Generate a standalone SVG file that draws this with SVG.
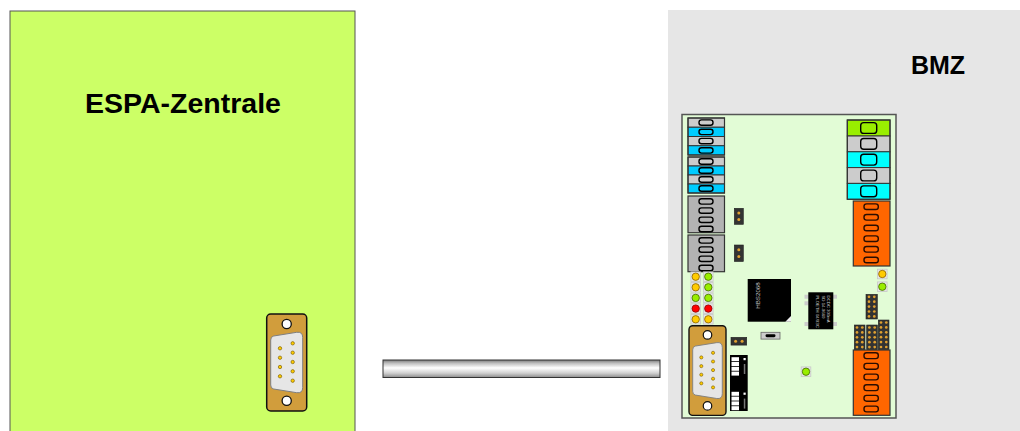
<svg xmlns="http://www.w3.org/2000/svg" xmlns:xlink="http://www.w3.org/1999/xlink" width="1020" height="431" viewBox="0 0 1020 431">
  <style>
    .title { font-family: "Liberation Sans", Arial, sans-serif; font-weight: bold; fill: #000; }
    .blk { stroke: #333; stroke-width: 1; }
    .slot { stroke: #000; stroke-width: 1.4; }
    .oslot { fill: #ff6600; stroke: #2a0d00; stroke-width: 1.4; }
    .hdr { fill: #333; stroke: #222; stroke-width: 0.6; }
    .pin { fill: #e0a030; }
    .ledbg { fill: #e6e6e6; stroke: #c8c8c8; stroke-width: 0.8; }
    .led-o { fill: #ffcc00; stroke: #8a6200; stroke-width: 0.8; }
    .led-g { fill: #99ee00; stroke: #3f6a00; stroke-width: 0.8; }
    .led-r { fill: #ff0000; stroke: #8a0000; stroke-width: 0.8; }
    .chiptxt { font-family: "Liberation Sans", Arial, sans-serif; fill: #c8c8c8; }
  </style>
  <defs>
    <linearGradient id="cableShade" x1="0" y1="0" x2="0" y2="1">
      <stop offset="0" stop-color="#7a7a7a"/>
      <stop offset="0.18" stop-color="#bdbdbd"/>
      <stop offset="0.45" stop-color="#ffffff"/>
      <stop offset="0.75" stop-color="#d0d0d0"/>
      <stop offset="1" stop-color="#8c8c8c"/>
    </linearGradient>
    <!-- 9-pin D-sub connector, 40 x 97 -->
    <g id="db9">
      <rect x="0" y="0" width="40" height="97" rx="4" fill="#d19d3c" stroke="#111" stroke-width="1.5"/>
      <circle cx="20" cy="10" r="4.6" fill="#fff" stroke="#111" stroke-width="1.3"/>
      <circle cx="20" cy="86.7" r="4.6" fill="#fff" stroke="#111" stroke-width="1.3"/>
      <path d="M7,22 L30,18.3 Q36,17.5 36,23.5 L36,73.5 Q36,79.5 30,78.7 L7,75 Q4,74.5 4,71 L4,26 Q4,22.5 7,22 Z" fill="#e6e6e6" stroke="#7f7f7f" stroke-width="1"/>
      <g fill="#ffcc00" stroke="#6b5000" stroke-width="0.6">
        <circle cx="13.3" cy="34.3" r="1.7"/>
        <circle cx="13.3" cy="43.7" r="1.7"/>
        <circle cx="13.3" cy="53" r="1.7"/>
        <circle cx="13.3" cy="62.3" r="1.7"/>
        <circle cx="26" cy="29.3" r="1.7"/>
        <circle cx="26" cy="38.7" r="1.7"/>
        <circle cx="26" cy="48" r="1.7"/>
        <circle cx="26" cy="57.3" r="1.7"/>
        <circle cx="26" cy="66.7" r="1.7"/>
      </g>
    </g>
    <!-- one row of a two-column pin header -->
    <g id="pinpair">
      <circle cx="0" cy="0" r="1.35" class="pin"/>
      <circle cx="5.3" cy="0" r="1.35" class="pin"/>
    </g>
    <!-- small LED on a square pad -->
    <rect id="ledpad" x="-4.8" y="-4.8" width="9.6" height="9.6"/>
  </defs>

  <!-- ESPA central unit -->
  <g id="espa-zentrale">
    <rect x="10" y="11" width="345" height="430" fill="#ccff66" stroke="#555" stroke-width="1"/>
    <text class="title" x="183" y="113" font-size="28.5" text-anchor="middle">ESPA-Zentrale</text>
    <use xlink:href="#db9" transform="translate(266.7,314)"/>
  </g>

  <!-- BMZ with the interface board -->
  <g id="bmz">
    <rect x="668" y="10" width="360" height="431" fill="#e6e6e6"/>
    <text class="title" x="938" y="74" font-size="25" text-anchor="middle">BMZ</text>

    <g id="board">
      <rect x="682" y="114.5" width="214" height="303.5" fill="#e2fcd6" stroke="#555" stroke-width="1.5"/>

      <!-- left screw terminals -->
      <g id="term-left">
        <rect class="blk" x="688" y="118" width="36.5" height="9.25" fill="#cccccc"/>
        <rect class="blk" x="688" y="127.25" width="36.5" height="9.25" fill="#00ccff"/>
        <rect class="blk" x="688" y="136.5" width="36.5" height="9.25" fill="#cccccc"/>
        <rect class="blk" x="688" y="145.75" width="36.5" height="9.25" fill="#00ccff"/>
        <rect x="688" y="118" width="36.5" height="37" fill="none" stroke="#333" stroke-width="1.2"/>
        <rect class="slot" x="699" y="119.9" width="14" height="5.4" rx="2.5" fill="#cccccc"/>
        <rect class="slot" x="699" y="129.2" width="14" height="5.4" rx="2.5" fill="#00ccff"/>
        <rect class="slot" x="699" y="138.4" width="14" height="5.4" rx="2.5" fill="#cccccc"/>
        <rect class="slot" x="699" y="147.7" width="14" height="5.4" rx="2.5" fill="#00ccff"/>

        <rect class="blk" x="688" y="157" width="36.5" height="9" fill="#cccccc"/>
        <rect class="blk" x="688" y="166" width="36.5" height="9" fill="#00ccff"/>
        <rect class="blk" x="688" y="175" width="36.5" height="9" fill="#cccccc"/>
        <rect class="blk" x="688" y="184" width="36.5" height="9" fill="#00ccff"/>
        <rect x="688" y="157" width="36.5" height="36" fill="none" stroke="#333" stroke-width="1.2"/>
        <rect class="slot" x="699" y="158.8" width="14" height="5.4" rx="2.5" fill="#cccccc"/>
        <rect class="slot" x="699" y="167.8" width="14" height="5.4" rx="2.5" fill="#00ccff"/>
        <rect class="slot" x="699" y="176.8" width="14" height="5.4" rx="2.5" fill="#cccccc"/>
        <rect class="slot" x="699" y="185.8" width="14" height="5.4" rx="2.5" fill="#00ccff"/>

        <rect x="688" y="196" width="36.5" height="36.7" fill="#b3b3b3" stroke="#333" stroke-width="1.2"/>
        <rect class="slot" x="699" y="198.7" width="14" height="5.4" rx="2.5" fill="#b3b3b3"/>
        <rect class="slot" x="699" y="207.9" width="14" height="5.4" rx="2.5" fill="#b3b3b3"/>
        <rect class="slot" x="699" y="217.1" width="14" height="5.4" rx="2.5" fill="#b3b3b3"/>
        <rect class="slot" x="699" y="226.3" width="14" height="5.4" rx="2.5" fill="#b3b3b3"/>

        <rect x="688" y="235" width="36.5" height="36.7" fill="#b3b3b3" stroke="#333" stroke-width="1.2"/>
        <rect class="slot" x="699" y="237.7" width="14" height="5.4" rx="2.5" fill="#b3b3b3"/>
        <rect class="slot" x="699" y="246.9" width="14" height="5.4" rx="2.5" fill="#b3b3b3"/>
        <rect class="slot" x="699" y="256.1" width="14" height="5.4" rx="2.5" fill="#b3b3b3"/>
        <rect class="slot" x="699" y="265.3" width="14" height="5.4" rx="2.5" fill="#b3b3b3"/>
      </g>

      <!-- jumpers -->
      <g id="jumpers">
        <rect class="hdr" x="734.3" y="208.3" width="9" height="16"/>
        <circle class="pin" cx="738.8" cy="213" r="1.5"/>
        <circle class="pin" cx="738.8" cy="219.6" r="1.5"/>
        <rect class="hdr" x="734.3" y="245" width="9" height="16.5"/>
        <circle class="pin" cx="738.8" cy="249.8" r="1.5"/>
        <circle class="pin" cx="738.8" cy="256.5" r="1.5"/>
        <rect class="hdr" x="731" y="337.3" width="15.7" height="7.8"/>
        <circle class="pin" cx="735.6" cy="341.2" r="1.5"/>
        <circle class="pin" cx="742.1" cy="341.2" r="1.5"/>
      </g>

      <!-- status LEDs -->
      <g id="leds">
        <use xlink:href="#ledpad" class="ledbg" x="695.7" y="276.7"/>
        <circle class="led-o" cx="695.7" cy="276.7" r="3.7"/>
        <use xlink:href="#ledpad" class="ledbg" x="708.3" y="276.7"/>
        <circle class="led-g" cx="708.3" cy="276.7" r="3.7"/>
        <use xlink:href="#ledpad" class="ledbg" x="695.7" y="287.3"/>
        <circle class="led-o" cx="695.7" cy="287.3" r="3.7"/>
        <use xlink:href="#ledpad" class="ledbg" x="708.3" y="287.3"/>
        <circle class="led-g" cx="708.3" cy="287.3" r="3.7"/>
        <use xlink:href="#ledpad" class="ledbg" x="695.7" y="297.9"/>
        <circle class="led-g" cx="695.7" cy="297.9" r="3.7"/>
        <use xlink:href="#ledpad" class="ledbg" x="708.3" y="297.9"/>
        <circle class="led-g" cx="708.3" cy="297.9" r="3.7"/>
        <use xlink:href="#ledpad" class="ledbg" x="695.7" y="308.6"/>
        <circle class="led-r" cx="695.7" cy="308.6" r="3.7"/>
        <use xlink:href="#ledpad" class="ledbg" x="708.3" y="308.6"/>
        <circle class="led-r" cx="708.3" cy="308.6" r="3.7"/>
        <use xlink:href="#ledpad" class="ledbg" x="695.7" y="319.3"/>
        <circle class="led-o" cx="695.7" cy="319.3" r="3.7"/>
        <use xlink:href="#ledpad" class="ledbg" x="708.3" y="319.3"/>
        <circle class="led-o" cx="708.3" cy="319.3" r="3.7"/>

        <use xlink:href="#ledpad" class="ledbg" x="882.3" y="274"/>
        <circle class="led-o" cx="882.3" cy="274" r="3.7"/>
        <use xlink:href="#ledpad" class="ledbg" x="882.3" y="286.7"/>
        <circle class="led-g" cx="882.3" cy="286.7" r="3.7"/>
        <use xlink:href="#ledpad" class="ledbg" x="806" y="371.7"/>
        <circle class="led-g" cx="806" cy="371.7" r="3.7"/>
      </g>

      <!-- D-sub on the board -->
      <use xlink:href="#db9" transform="translate(689,325.7) scale(0.925)"/>

      <!-- microcontroller -->
      <g id="chip-main">
        <rect x="747.7" y="279" width="43.3" height="42.7" fill="#000"/>
        <polygon points="791,316 791,321.7 785.3,321.7" fill="#f0f0f0"/>
        <text class="chiptxt" font-size="6.2" text-anchor="middle" transform="translate(759.6,295.5) rotate(-90)">HBS2068</text>
      </g>

      <!-- DC/DC converter -->
      <g id="chip-dcdc">
        <rect x="804.5" y="294.7" width="4" height="4" fill="#cccccc"/>
        <rect x="804.5" y="301.3" width="4" height="4" fill="#cccccc"/>
        <rect x="804.5" y="322" width="4" height="4" fill="#cccccc"/>
        <rect x="833" y="294.7" width="4" height="4" fill="#cccccc"/>
        <rect x="833" y="322" width="4" height="4" fill="#cccccc"/>
        <rect x="808.3" y="292.3" width="25" height="37" fill="#000"/>
        <g class="chiptxt" font-size="4.3">
          <text transform="translate(826.8,295.5) rotate(90)">DCDC 300mA</text>
          <text transform="translate(821.6,295.5) rotate(90)">SD 14-0660</text>
          <text transform="translate(816.4,295.5) rotate(90)">PLOETH 04/03C</text>
        </g>
      </g>

      <!-- push button -->
      <g id="button">
        <rect x="761" y="332.3" width="19" height="6.8" fill="#cccccc" stroke="#666" stroke-width="0.8"/>
        <rect x="765.5" y="334.3" width="10" height="2.9" rx="1.4" fill="#000"/>
      </g>

      <!-- DIP switches -->
      <g id="dip">
        <rect x="730" y="355" width="17.7" height="56" fill="#000"/>
        <g fill="#ffffff">
          <rect x="731.5" y="357.2" width="7.5" height="4"/>
          <rect x="731.5" y="362" width="7.5" height="4"/>
          <rect x="731.5" y="366.8" width="7.5" height="4"/>
          <rect x="731.5" y="371.6" width="7.5" height="4"/>
          <rect x="731.5" y="391.8" width="7.5" height="4"/>
          <rect x="731.5" y="396.6" width="7.5" height="4"/>
          <rect x="731.5" y="401.4" width="7.5" height="4"/>
          <rect x="731.5" y="406.2" width="7.5" height="4"/>
          <rect x="743.5" y="358" width="2.2" height="2.2"/>
          <rect x="743.5" y="392.6" width="2.2" height="2.2"/>
        </g>
        <g fill="#777">
          <rect x="743.8" y="364" width="1.5" height="10"/>
          <rect x="743.8" y="398.6" width="1.5" height="10"/>
        </g>
      </g>

      <!-- right screw terminals -->
      <g id="term-right">
        <rect class="blk" x="847.3" y="120" width="42.7" height="16" fill="#99ee00"/>
        <rect class="blk" x="847.3" y="136" width="42.7" height="15.8" fill="#cccccc"/>
        <rect class="blk" x="847.3" y="151.8" width="42.7" height="15.8" fill="#00ffff"/>
        <rect class="blk" x="847.3" y="167.6" width="42.7" height="15.8" fill="#cccccc"/>
        <rect class="blk" x="847.3" y="183.4" width="42.7" height="15.9" fill="#00ffff"/>
        <rect x="847.3" y="120" width="42.7" height="79.3" fill="none" stroke="#333" stroke-width="1.2"/>
        <rect class="slot" x="860.7" y="122.6" width="16" height="10.8" rx="3" fill="#99ee00"/>
        <rect class="slot" x="860.7" y="138.5" width="16" height="10.8" rx="3" fill="#cccccc"/>
        <rect class="slot" x="860.7" y="154.3" width="16" height="10.8" rx="3" fill="#00ffff"/>
        <rect class="slot" x="860.7" y="170.1" width="16" height="10.8" rx="3" fill="#cccccc"/>
        <rect class="slot" x="860.7" y="185.9" width="16" height="10.8" rx="3" fill="#00ffff"/>

        <rect x="853.3" y="201" width="36.7" height="65" fill="#ff6600" stroke="#333" stroke-width="1.2"/>
        <rect class="oslot" x="864" y="203.9" width="14.3" height="5.6" rx="2.6"/>
        <rect class="oslot" x="864" y="214.5" width="14.3" height="5.6" rx="2.6"/>
        <rect class="oslot" x="864" y="225.2" width="14.3" height="5.6" rx="2.6"/>
        <rect class="oslot" x="864" y="235.9" width="14.3" height="5.6" rx="2.6"/>
        <rect class="oslot" x="864" y="246.5" width="14.3" height="5.6" rx="2.6"/>
        <rect class="oslot" x="864" y="257.2" width="14.3" height="5.6" rx="2.6"/>

        <rect x="853.3" y="350" width="36.7" height="65.3" fill="#ff6600" stroke="#333" stroke-width="1.2"/>
        <rect class="oslot" x="864" y="352.8" width="14.3" height="5.8" rx="2.6"/>
        <rect class="oslot" x="864" y="363.4" width="14.3" height="5.8" rx="2.6"/>
        <rect class="oslot" x="864" y="374.1" width="14.3" height="5.8" rx="2.6"/>
        <rect class="oslot" x="864" y="384.8" width="14.3" height="5.8" rx="2.6"/>
        <rect class="oslot" x="864" y="395.4" width="14.3" height="5.8" rx="2.6"/>
        <rect class="oslot" x="864" y="406.1" width="14.3" height="5.8" rx="2.6"/>
      </g>

      <!-- pin headers -->
      <g id="headers">
        <rect class="hdr" x="866" y="294.3" width="11.3" height="24.7"/>
        <use xlink:href="#pinpair" x="869" y="296.8"/>
        <use xlink:href="#pinpair" x="869" y="301.7"/>
        <use xlink:href="#pinpair" x="869" y="306.6"/>
        <use xlink:href="#pinpair" x="869" y="311.5"/>
        <use xlink:href="#pinpair" x="869" y="316.4"/>

        <rect class="hdr" x="854.3" y="325" width="10.7" height="24.5"/>
        <use xlink:href="#pinpair" x="857" y="327.5"/>
        <use xlink:href="#pinpair" x="857" y="332.4"/>
        <use xlink:href="#pinpair" x="857" y="337.3"/>
        <use xlink:href="#pinpair" x="857" y="342.2"/>
        <use xlink:href="#pinpair" x="857" y="347.1"/>

        <rect class="hdr" x="866.7" y="325" width="10.7" height="24.5"/>
        <use xlink:href="#pinpair" x="869.4" y="327.5"/>
        <use xlink:href="#pinpair" x="869.4" y="332.4"/>
        <use xlink:href="#pinpair" x="869.4" y="337.3"/>
        <use xlink:href="#pinpair" x="869.4" y="342.2"/>
        <use xlink:href="#pinpair" x="869.4" y="347.1"/>

        <rect class="hdr" x="878.3" y="320" width="10.7" height="29.5"/>
        <use xlink:href="#pinpair" x="881" y="322.5"/>
        <use xlink:href="#pinpair" x="881" y="327.4"/>
        <use xlink:href="#pinpair" x="881" y="332.3"/>
        <use xlink:href="#pinpair" x="881" y="337.2"/>
        <use xlink:href="#pinpair" x="881" y="342.1"/>
        <use xlink:href="#pinpair" x="881" y="347"/>
      </g>
    </g>
  </g>

  <!-- serial cable between the two units -->
  <g id="connectors">
    <rect x="383" y="360" width="277" height="17.5" fill="url(#cableShade)" stroke="#333" stroke-width="1"/>
  </g>
</svg>
